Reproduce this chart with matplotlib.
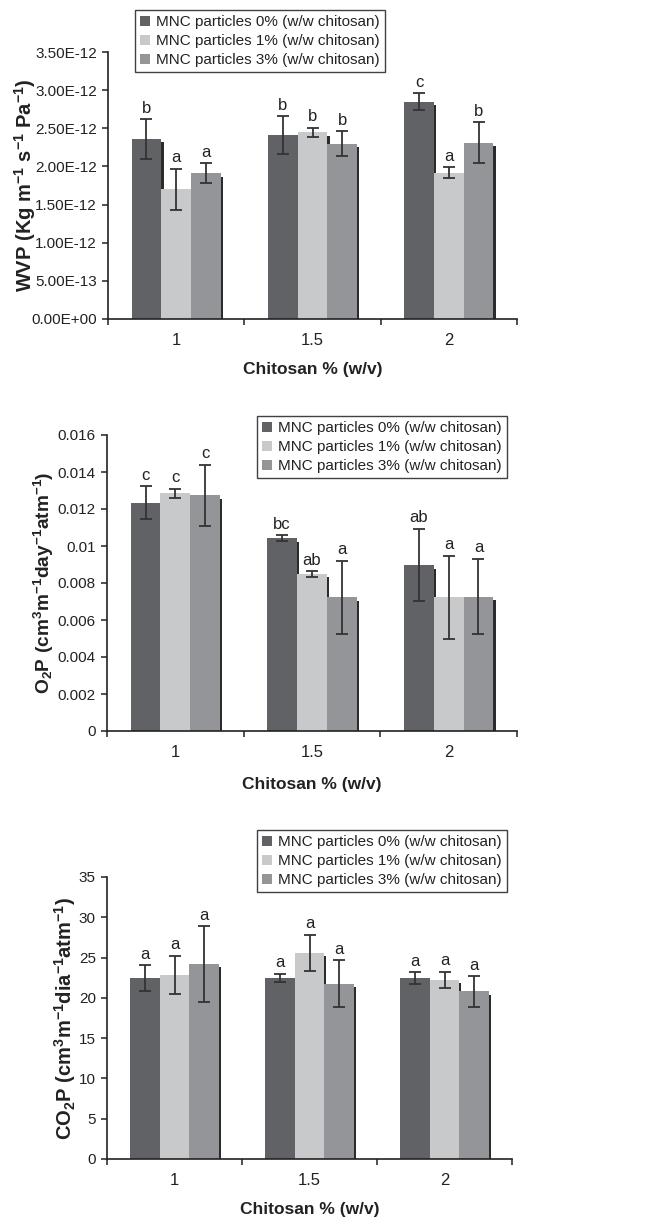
import numpy as np
import matplotlib
matplotlib.use('Agg')
import matplotlib.pyplot as plt
import matplotlib.patheffects as pe
from matplotlib.patches import Patch
from matplotlib.ticker import FuncFormatter, FixedLocator

plt.rcParams['font.family'] = ['Liberation Sans', 'DejaVu Sans']
plt.rcParams['mathtext.fontset'] = 'custom'
plt.rcParams['mathtext.bf'] = 'Liberation Sans:bold'
plt.rcParams['mathtext.rm'] = 'Liberation Sans'
plt.rcParams['mathtext.default'] = 'bf'

# data
categories = ['1', '1.5', '2']
series = ['MNC particles 0% (w/w chitosan)',
          'MNC particles 1% (w/w chitosan)',
          'MNC particles 3% (w/w chitosan)']
colors = ['#616266', '#c8c9cb', '#949599']

# WVP (x 1E-12)
wvp_mean = [[2.36, 2.41, 2.85], [1.70, 2.45, 1.92], [1.91, 2.30, 2.31]]
wvp_err = [[0.26, 0.25, 0.11], [0.27, 0.06, 0.07], [0.13, 0.16, 0.27]]
wvp_letters = [['b', 'b', 'c'], ['a', 'b', 'a'], ['a', 'b', 'b']]

# O2P
o2p_mean = [[0.01234, 0.01041, 0.00897], [0.01285, 0.00849, 0.00723], [0.01274, 0.00723, 0.00726]]
o2p_err = [[0.0009, 0.00016, 0.00196], [0.00025, 0.00015, 0.00225], [0.00165, 0.00197, 0.00204]]
o2p_letters = [['c', 'bc', 'ab'], ['c', 'ab', 'a'], ['c', 'a', 'a']]

# CO2P
co2p_mean = [[22.47, 22.47, 22.47], [22.84, 25.57, 22.22], [24.2, 21.76, 20.81]]
co2p_err = [[1.6, 0.55, 0.7], [2.4, 2.25, 1.05], [4.7, 2.9, 1.9]]
co2p_letters = [['a', 'a', 'a'], ['a', 'a', 'a'], ['a', 'a', 'a']]

W, H = 666, 1221
fig = plt.figure(figsize=(W / 100, H / 100), dpi=100)


def panel(rect, means, errs, letters, scale, ymax, ystep, fmt, ylabel, ylab_size, ylab_x, xlab_y, leg_xy):
    ax = fig.add_axes([rect[0] / W, 1 - rect[3] / H, (rect[2] - rect[0]) / W, (rect[3] - rect[1]) / H])
    x = np.arange(1, len(categories) + 1)
    w = 0.218
    for k in range(3):
        vals = np.array(means[k]) * scale
        b = ax.bar(x + (k - 1) * w, vals, w, color=colors[k], edgecolor='none', zorder=1)
        for p in b.patches:
            p.set_path_effects([pe.SimplePatchShadow(offset=(1.6, -2.5), shadow_rgbFace='#2b2b2b', alpha=1),
                                pe.Normal()])
    for k in range(3):
        vals = np.array(means[k]) * scale
        e = np.array(errs[k]) * scale
        ax.errorbar(x + (k - 1) * w, vals, yerr=e, fmt='none', ecolor='#333333',
                    elinewidth=1.3, capsize=4, capthick=1.3, zorder=3)
        for i in range(len(x)):
            ax.annotate(letters[k][i], (x[i] + (k - 1) * w, vals[i] + e[i]),
                        xytext=(0, 2.5), textcoords='offset points', ha='center', va='bottom',
                        fontsize=12, color='#222222')
    ax.set_xlim(0.5, len(categories) + 0.5)
    ax.set_ylim(0, ymax)
    ax.yaxis.set_major_locator(FixedLocator(np.arange(0, ymax + ystep / 2, ystep)))
    ax.yaxis.set_major_formatter(FuncFormatter(fmt))
    ax.xaxis.set_major_locator(FixedLocator(np.arange(0.5, len(categories) + 1, 1)))
    ax.xaxis.set_major_formatter(FuncFormatter(lambda v, p: ''))
    ax.set_xticks(x, minor=True)
    ax.set_xticklabels(categories, minor=True)
    ax.tick_params(axis='x', which='major', direction='out', length=4, width=1.1, color='#222222')
    ax.tick_params(axis='x', which='minor', length=0, pad=10, labelsize=12, labelcolor='#222222')
    ax.tick_params(axis='y', direction='out', length=4, width=1.1, pad=4, labelsize=11,
                   color='#222222', labelcolor='#222222')
    for s in ['top', 'right']:
        ax.spines[s].set_visible(False)
    for s in ['left', 'bottom']:
        ax.spines[s].set_linewidth(1.2)
        ax.spines[s].set_color('#222222')
    ax.set_xlabel('Chitosan % (w/v)', fontsize=12.5, fontweight='bold', color='#222222')
    ax.set_ylabel(ylabel, fontsize=ylab_size, fontweight='bold', color='#222222')
    ax.xaxis.set_label_coords(0.5, xlab_y)
    ax.yaxis.set_label_coords(ylab_x, 0.5)
    handles = [Patch(facecolor=colors[k], edgecolor='none', label=series[k]) for k in range(3)]
    leg = ax.legend(handles=handles, loc='upper left', bbox_to_anchor=(leg_xy[0] / W, 1 - leg_xy[1] / H),
                    bbox_transform=fig.transFigure, borderaxespad=0, fancybox=False, frameon=True,
                    edgecolor='#111111', fontsize=11, handlelength=0.6, handleheight=0.6,
                    handletextpad=0.4, labelspacing=0.32, borderpad=0.35)
    leg.get_frame().set_linewidth(1.0)
    for t in leg.get_texts():
        t.set_color('#222222')
    return ax


panel((108, 52, 517, 319), wvp_mean, wvp_err, wvp_letters, 1e-12, 3.5e-12, 0.5e-12,
      lambda v, p: '%.2E' % v, r'WVP (Kg m$^{-1}$ s$^{-1}$ Pa$^{-1}$)', 14.5, -0.172, -0.16, (135, 10))
panel((107, 435, 517, 731), o2p_mean, o2p_err, o2p_letters, 1.0, 0.016, 0.002,
      lambda v, p: '%g' % round(v, 4), r'O$_2$P (cm$^3$m$^{-1}$day$^{-1}$atm$^{-1}$)', 13.8, -0.125, -0.155, (257, 416))
panel((107, 877, 512, 1159), co2p_mean, co2p_err, co2p_letters, 1.0, 35, 5,
      lambda v, p: '%g' % v, r'CO$_2$P (cm$^3$m$^{-1}$dia$^{-1}$atm$^{-1}$)', 14.5, -0.072, -0.152, (257, 830))

fig.savefig('out.png', dpi=100, facecolor='white')
